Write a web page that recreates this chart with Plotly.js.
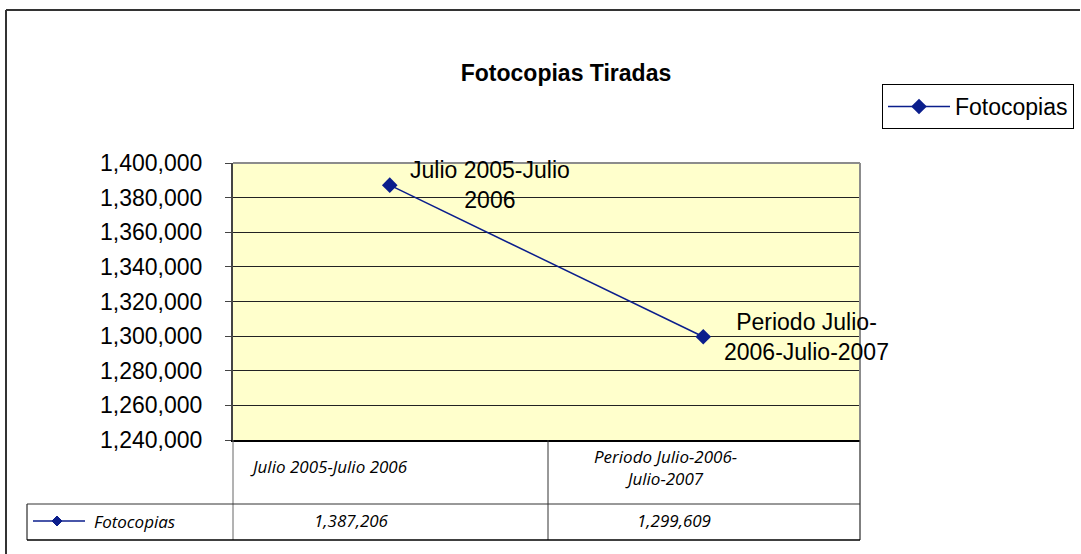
<!DOCTYPE html>
<html>
<head>
<meta charset="utf-8">
<script src="https://cdn.plot.ly/plotly-3.0.1.min.js"></script>
<style>
  html, body { margin: 0; padding: 0; background: #fff; }
  #chart { width: 1081px; height: 554px; }
</style>
</head>
<body>
<div id="chart"></div>
<script>
// chart data
var categories = ['Julio 2005-Julio 2006', 'Periodo Julio-2006-Julio-2007'];
var pointLabels = ['Julio 2005-Julio<br>2006', 'Periodo Julio-<br>2006-Julio-2007'];
var tableLabels = ['Julio 2005-Julio 2006', 'Periodo Julio-2006-<br>Julio-2007'];
var fotocopias = [1387206, 1299609];
var seriesName = 'Fotocopias';

var lineColor = '#0B1E8C';
var tableFont = {family: '"Open Sans", Lato, sans-serif', size: 17, color: '#000'};
var arial = 'Arial, "Liberation Sans", sans-serif';

// plot area sits at 233..860 x 163..440 px
function px(x) { return (x - 233) / 627; }
function py(y) { return (440 - y) / 277; }

function fmt(v) { return v.toLocaleString('en-US'); }

var trace = {
  x: categories,
  y: fotocopias,
  name: seriesName,
  type: 'scatter',
  mode: 'lines+markers',
  line: {color: lineColor, width: 1.5},
  marker: {symbol: 'diamond', size: 12, color: lineColor}
};

var annotations = [];
var pointShift = [100, 103];
categories.forEach(function(c, i) {
  annotations.push({
    x: c, y: fotocopias[i], xref: 'x', yref: 'y',
    text: pointLabels[i], showarrow: false, align: 'center',
    xshift: pointShift[i], yanchor: 'middle',
    font: {family: arial, size: 23, color: '#000'}
  });
});

// data table text
var labelPos = [[329, 466], [665, 467]];
var valuePos = [[351, 520], [674, 520]];
categories.forEach(function(c, i) {
  annotations.push({
    x: px(labelPos[i][0]), y: py(labelPos[i][1]), xref: 'paper', yref: 'paper',
    text: '<i>' + tableLabels[i] + '</i>', showarrow: false, align: 'center',
    xanchor: 'center', yanchor: 'middle', font: tableFont
  });
  annotations.push({
    x: px(valuePos[i][0]), y: py(valuePos[i][1]), xref: 'paper', yref: 'paper',
    text: '<i>' + fmt(fotocopias[i]) + '</i>', showarrow: false,
    xanchor: 'center', yanchor: 'middle', font: tableFont
  });
});
annotations.push({
  x: px(92), y: py(521), xref: 'paper', yref: 'paper',
  text: '<i>' + seriesName + '</i>', showarrow: false,
  xanchor: 'left', yanchor: 'middle', font: tableFont
});

function hline(x0, x1, y, color, w) {
  return {type: 'line', xref: 'paper', yref: 'paper', x0: px(x0), x1: px(x1), y0: py(y), y1: py(y),
          line: {color: color, width: w}};
}
function vline(x, y0, y1, color, w) {
  return {type: 'line', xref: 'paper', yref: 'paper', x0: px(x), x1: px(x), y0: py(y0), y1: py(y1),
          line: {color: color, width: w}};
}

var shapes = [
  // outer chart frame
  hline(6, 1080, 10, '#333', 2),
  vline(6, 10, 560, '#333', 2),
  // plot area border (top / right)
  hline(233, 860, 163, '#8c8c8c', 2),
  vline(860, 163, 440, '#8c8c8c', 2),
  // data table grid
  vline(233, 440, 540, '#666', 1),
  vline(548, 440, 540, '#333', 1),
  vline(860, 440, 540, '#555', 1.5),
  vline(27, 504, 540, '#000', 1),
  hline(27, 860, 504, '#333', 1),
  hline(27, 860, 540, '#000', 1.5),
  // legend key in the table
  hline(33, 85, 521, lineColor, 1.5),
  {type: 'path', xref: 'paper', yref: 'paper',
   path: 'M' + px(52) + ',' + py(521) + ' L' + px(57) + ',' + py(516) + ' L' + px(62) + ',' + py(521) +
         ' L' + px(57) + ',' + py(526) + ' Z',
   fillcolor: lineColor, line: {color: lineColor, width: 1}}
];

var layout = {
  width: 1081,
  height: 554,
  margin: {l: 233, r: 221, t: 163, b: 114},
  paper_bgcolor: '#fff',
  plot_bgcolor: '#FFFFCC',
  font: {family: arial, color: '#000'},
  title: {
    text: '<b>Fotocopias Tiradas</b>',
    x: 566 / 1081, xref: 'container', xanchor: 'center',
    y: 1 - 73 / 554, yref: 'container', yanchor: 'middle',
    font: {family: arial, size: 23, color: '#000'}
  },
  xaxis: {
    type: 'category',
    range: [-0.5, 1.5],
    showticklabels: false,
    showgrid: false,
    zeroline: false,
    showline: true,
    linecolor: '#000',
    linewidth: 1.5,
    ticks: ''
  },
  yaxis: {
    range: [1240000, 1400000],
    dtick: 20000,
    tick0: 1240000,
    tickformat: ',d',
    ticks: 'outside',
    ticklen: 6,
    tickcolor: '#444',
    ticklabelstandoff: 18,
    tickfont: {size: 23},
    showgrid: true,
    gridcolor: '#222',
    gridwidth: 1,
    zeroline: false,
    showline: true,
    linecolor: '#444',
    linewidth: 2
  },
  showlegend: true,
  legend: {
    xref: 'container', yref: 'container',
    x: 882 / 1081, y: 1 - 84 / 554, xanchor: 'left', yanchor: 'top',
    bgcolor: '#fff', bordercolor: '#000', borderwidth: 1,
    itemwidth: 62,
    font: {size: 23}
  },
  annotations: annotations,
  shapes: shapes
};

Plotly.newPlot('chart', [trace], layout, {staticPlot: true, displayModeBar: false});
</script>
</body>
</html>
